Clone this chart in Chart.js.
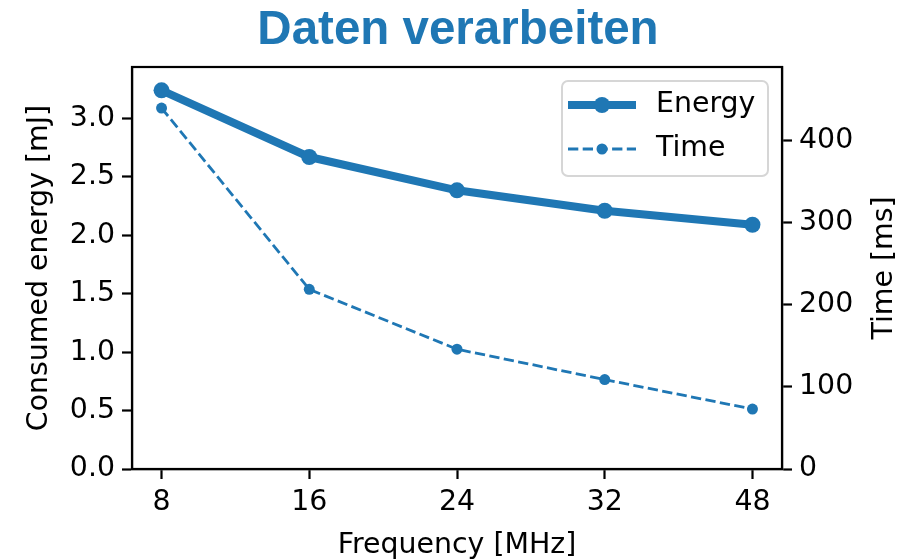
<!DOCTYPE html>
<html>
<head>
<meta charset="utf-8">
<script src="https://cdn.jsdelivr.net/npm/chart.js@4/dist/chart.umd.min.js"></script>
<style>
html,body{margin:0;padding:0;background:#fff;}
#wrap{width:910px;height:559px;}
</style>
</head>
<body>
<div id="wrap"><canvas id="c" width="910" height="559"></canvas></div>
<script>
const titleText = 'Daten verarbeiten';
const categories = ['8', '16', '24', '32', '48'];
const energy = [3.24, 2.67, 2.385, 2.21, 2.09];
const timeMs = [440, 219, 146, 109, 73];
const energyTicks = [0, 0.5, 1.0, 1.5, 2.0, 2.5, 3.0];
const timeTicks = [0, 100, 200, 300, 400];
const seriesLabels = ['Energy', 'Time'];
const xLabel = 'Frequency [MHz]';
const yLabel = 'Consumed energy [mJ]';
const y1Label = 'Time [ms]';

const BLUE = '#1f77b4';
const FONT = '"DejaVu Sans", sans-serif';
const FS = 28.4;

const decor = {
  id: 'decor',
  afterDraw(chart) {
    const ctx = chart.ctx;
    const a = chart.chartArea;
    ctx.save();
    // frame
    ctx.strokeStyle = '#000';
    ctx.lineWidth = 2.2;
    ctx.strokeRect(a.left, a.top, a.right - a.left, a.bottom - a.top);
    // title
    ctx.fillStyle = BLUE;
    ctx.font = 'bold 47.5px "Liberation Sans", Arial, sans-serif';
    ctx.textAlign = 'center';
    ctx.textBaseline = 'alphabetic';
    ctx.fillText(titleText, (a.left + a.right) / 2 + 1, 44);
    // axis titles
    ctx.fillStyle = '#000';
    ctx.font = FS + 'px ' + FONT;
    ctx.fillText(xLabel, (a.left + a.right) / 2, 553);
    const cy = (a.top + a.bottom) / 2;
    ctx.save();
    ctx.translate(47, cy);
    ctx.rotate(-Math.PI / 2);
    ctx.fillText(yLabel, 0, 0);
    ctx.restore();
    ctx.save();
    ctx.translate(892, cy);
    ctx.rotate(-Math.PI / 2);
    ctx.fillText(y1Label, 0, 0);
    ctx.restore();
    // legend
    const lx = 562, ly = 81, lw = 206, lh = 95, r = 6;
    ctx.beginPath();
    ctx.moveTo(lx + r, ly);
    ctx.arcTo(lx + lw, ly, lx + lw, ly + lh, r);
    ctx.arcTo(lx + lw, ly + lh, lx, ly + lh, r);
    ctx.arcTo(lx, ly + lh, lx, ly, r);
    ctx.arcTo(lx, ly, lx + lw, ly, r);
    ctx.closePath();
    ctx.fillStyle = 'rgba(255,255,255,0.8)';
    ctx.fill();
    ctx.strokeStyle = '#d6d6d6';
    ctx.lineWidth = 2;
    ctx.stroke();
    const rows = [105, 149];
    chart.data.datasets.forEach((ds, i) => {
      const y = rows[i];
      ctx.save();
      ctx.strokeStyle = ds.borderColor;
      ctx.lineWidth = ds.borderWidth;
      ctx.setLineDash(ds.borderDash || []);
      ctx.lineCap = 'butt';
      ctx.beginPath();
      ctx.moveTo(568, y);
      ctx.lineTo(636, y);
      ctx.stroke();
      ctx.setLineDash([]);
      ctx.fillStyle = ds.backgroundColor;
      ctx.beginPath();
      ctx.arc(602, y, ds.pointRadius, 0, Math.PI * 2);
      ctx.fill();
      ctx.restore();
      ctx.fillStyle = '#000';
      ctx.font = FS + 'px ' + FONT;
      ctx.textAlign = 'left';
      ctx.textBaseline = 'middle';
      ctx.fillText(ds.label, 656, y);
    });
    ctx.restore();
  }
};

const axisCommon = {
  grid: { drawOnChartArea: false, drawTicks: true, tickLength: 10, tickWidth: 2.2, tickColor: '#000', color: '#000' },
  border: { display: true, color: '#000', width: 2.2 },
  ticks: { color: '#000', font: { family: FONT, size: FS }, padding: 7, autoSkip: false, maxRotation: 0 }
};

new Chart(document.getElementById('c'), {
  type: 'line',
  data: {
    datasets: [
      {
        label: seriesLabels[0],
        data: categories.map((c, i) => ({ x: i, y: energy[i] })),
        borderColor: BLUE, backgroundColor: BLUE,
        borderWidth: 8, pointRadius: 8, pointBorderWidth: 0, pointHoverRadius: 8,
        borderJoinStyle: 'round', tension: 0, yAxisID: 'y', clip: false
      },
      {
        label: seriesLabels[1],
        data: categories.map((c, i) => ({ x: i, y: timeMs[i] })),
        borderColor: BLUE, backgroundColor: BLUE,
        borderWidth: 2.8, borderDash: [10.3, 4.4], pointRadius: 5.5, pointBorderWidth: 0, pointHoverRadius: 5.5,
        tension: 0, yAxisID: 'y1', clip: false
      }
    ]
  },
  options: {
    responsive: false,
    animation: false,
    events: [],
    layout: { padding: { top: 67, left: 0, right: 0, bottom: 0 } },
    plugins: { legend: { display: false }, tooltip: { enabled: false }, title: { display: false } },
    scales: {
      x: {
        type: 'linear', min: -0.2, max: 4.2,
        ...axisCommon,
        ticks: { ...axisCommon.ticks, callback: (v) => categories[v] },
        afterBuildTicks: (s) => { s.ticks = categories.map((c, i) => ({ value: i })); },
        afterFit: (s) => { s.height = 90; }
      },
      y: {
        type: 'linear', position: 'left', min: 0, max: 3.44,
        ...axisCommon,
        ticks: { ...axisCommon.ticks, callback: (v) => Number(v).toFixed(1) },
        afterBuildTicks: (s) => { s.ticks = energyTicks.map(v => ({ value: v })); },
        afterFit: (s) => { s.width = 132; }
      },
      y1: {
        type: 'linear', position: 'right', min: 0, max: 490,
        ...axisCommon,
        ticks: { ...axisCommon.ticks, callback: (v) => String(v) },
        afterBuildTicks: (s) => { s.ticks = timeTicks.map(v => ({ value: v })); },
        afterFit: (s) => { s.width = 128; }
      }
    }
  },
  plugins: [decor]
});
</script>
</body>
</html>
